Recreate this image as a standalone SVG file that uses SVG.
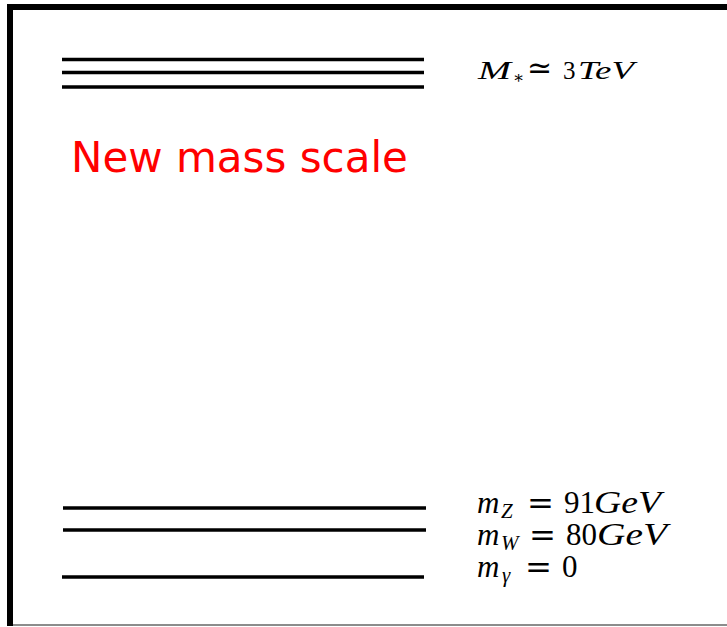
<svg xmlns="http://www.w3.org/2000/svg" width="727" height="627" viewBox="0 0 727 627">
<style>
.lvl{stroke:#000;stroke-width:3.5;fill:none}
.math{font-family:"Liberation Serif","Times New Roman",serif;fill:#000}
.it{font-style:italic}
.op{font-family:"DejaVu Serif",serif}
.red{font-family:"DejaVu Sans",sans-serif;font-size:42px;fill:#ff0000}
</style>
<rect width="727" height="627" fill="#fff"/>
<g id="frame">
<line x1="7" y1="625" x2="727" y2="625" stroke="#8c8c8c" stroke-width="2"/>
<path d="M10 626 V7 H727" stroke="#000" stroke-width="6" fill="none"/>
</g>
<g id="connectors"></g>
<g id="new-scale">
<line class="lvl" x1="62" y1="59.5" x2="424" y2="59.5"/>
<line class="lvl" x1="62" y1="72.5" x2="424" y2="72.5"/>
<line class="lvl" x1="62" y1="87" x2="424" y2="87"/>
<text class="math" font-size="25"><tspan class="it" x="478" y="79" textLength="33" lengthAdjust="spacingAndGlyphs">M</tspan><tspan class="op" x="513" y="83" font-size="17">∗</tspan><tspan class="op" x="527" y="78" font-size="30">≃</tspan><tspan x="563" y="79">3</tspan><tspan class="it" x="578" y="79" textLength="56" lengthAdjust="spacingAndGlyphs">TeV</tspan></text>
</g>
<g id="label-new-mass-scale">
<text class="red" x="71" y="172">New mass scale</text>
</g>
<g id="mZ">
<line class="lvl" x1="63" y1="508" x2="426" y2="508"/>
<text class="math" font-size="31"><tspan class="it" x="477" y="513">m</tspan><tspan class="it" x="501" y="518" font-size="21">Z</tspan><tspan class="op" x="527" y="514" textLength="27" lengthAdjust="spacingAndGlyphs">=</tspan><tspan x="564" y="513">91</tspan><tspan class="it" x="594" y="513" textLength="67" lengthAdjust="spacingAndGlyphs">GeV</tspan></text>
</g>
<g id="mW">
<line class="lvl" x1="63" y1="530" x2="426" y2="530"/>
<text class="math" font-size="31"><tspan class="it" x="477" y="545">m</tspan><tspan class="it" x="501" y="550" font-size="21">W</tspan><tspan class="op" x="529" y="546" textLength="27" lengthAdjust="spacingAndGlyphs">=</tspan><tspan x="566" y="545">80</tspan><tspan class="it" x="597" y="545" textLength="70" lengthAdjust="spacingAndGlyphs">GeV</tspan></text>
</g>
<g id="mgamma">
<line class="lvl" x1="62" y1="577" x2="424" y2="577"/>
<text class="math" font-size="31"><tspan class="it" x="477" y="577">m</tspan><tspan class="it" x="502" y="582" font-size="21">γ</tspan><tspan class="op" x="525" y="578" textLength="27" lengthAdjust="spacingAndGlyphs">=</tspan><tspan x="562" y="577">0</tspan></text>
</g>
</svg>
